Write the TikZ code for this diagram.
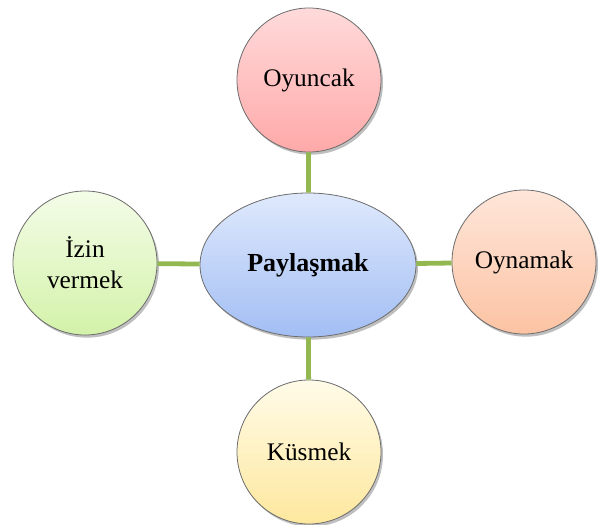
\documentclass[tikz,border=0pt]{standalone}
\usepackage{fontspec}
\setmainfont{Liberation Serif}
\usepackage{tikz}
\usetikzlibrary{calc, positioning, shapes.geometric, shadows, backgrounds}
\definecolor{redtop}{HTML}{FFDADA}
\definecolor{redbot}{HTML}{FFA9A9}
\definecolor{bluetop}{HTML}{DFE9FC}
\definecolor{bluebot}{HTML}{A2BEF4}
\definecolor{peachtop}{HTML}{FEE6DA}
\definecolor{peachbot}{HTML}{FCC3A3}
\definecolor{yeltop}{HTML}{FFFBE8}
\definecolor{yelbot}{HTML}{FEE89E}
\definecolor{greentop}{HTML}{F4FCE8}
\definecolor{greenbot}{HTML}{D3F2A9}
\definecolor{linkgreen}{HTML}{93B851}
\tikzstyle{bubble}=[draw=gray!85!black, line width=0.6pt, shape=circle, minimum size=108pt, inner sep=0pt, align=center, font=\fontsize{19}{23}\selectfont, drop shadow={shadow xshift=1.5pt, shadow yshift=-2pt, fill=black, opacity=.25}]
\tikzstyle{link}=[draw=linkgreen, line width=3.6pt]
\tikzset{>=stealth}

\begin{document}
\begin{tikzpicture}[x=0.75pt, y=-0.75pt]
\useasboundingbox (0,0) rectangle (601,525);
\node[bubble, shape=ellipse, minimum width=162pt, minimum height=108pt, top color=bluetop, bottom color=bluebot, font=\fontsize{19.5}{23}\selectfont\bfseries] (pay) at (308,265) {Paylaşmak};
\node[bubble, top color=redtop, bottom color=redbot] (oy) at (309,80) {Oyuncak};
\node[bubble, top color=peachtop, bottom color=peachbot] (oyn) at (524,262) {Oynamak};
\node[bubble, top color=yeltop, bottom color=yelbot] (kus) at (309,452) {Küsmek};
\node[bubble, top color=greentop, bottom color=greenbot] (izin) at (85,263) {İzin\\vermek};
%
\draw[link] (oy) -- (pay);
\draw[link] (pay) -- (kus);
\draw[link] (izin) -- (pay);
\draw[link] (pay) -- (oyn);
\end{tikzpicture}
\end{document}
